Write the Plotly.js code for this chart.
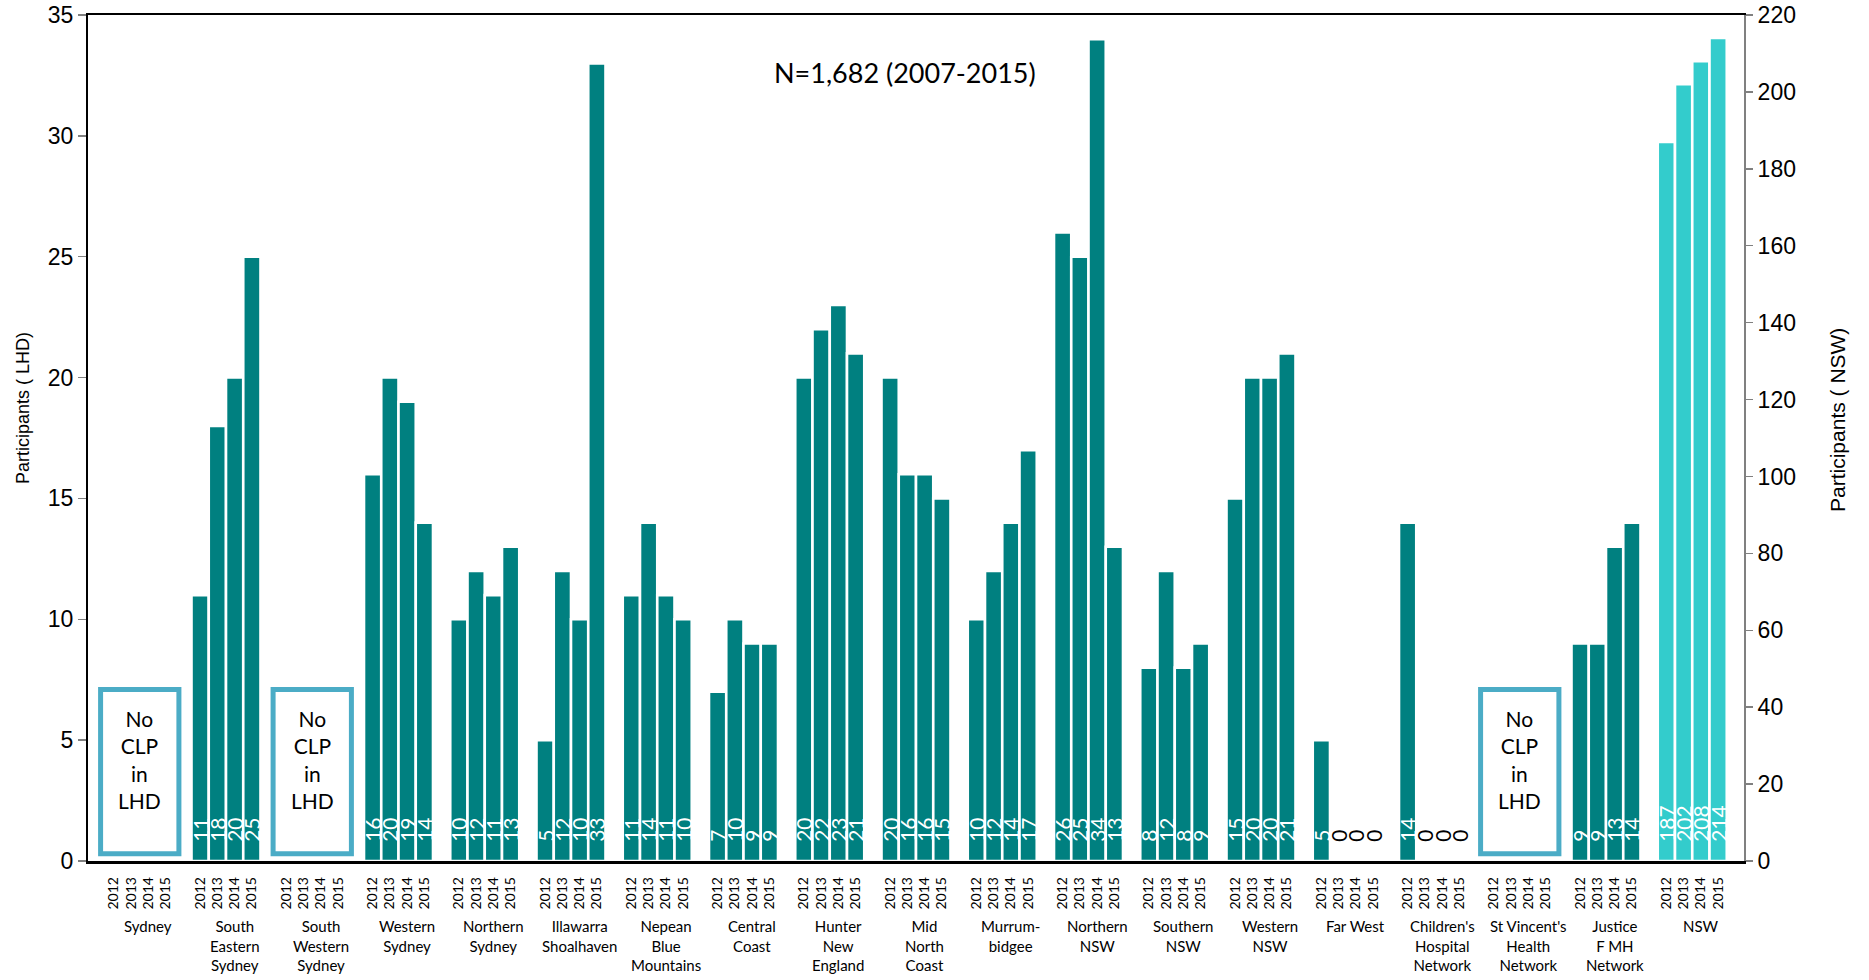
<!DOCTYPE html>
<html>
<head>
<meta charset="utf-8">
<script src="https://cdn.plot.ly/plotly-3.0.1.min.js"></script>
<style>
  html, body { margin: 0; padding: 0; background: #fff; }
  #chart { width: 1869px; height: 980px; }
</style>
</head>
<body>
<div id="chart"></div>
<script>
// Clinical Leadership Program participants by Local Health District, 2012-2015
const years = ['2012', '2013', '2014', '2015'];

const regions = [
  'Sydney', 'South<br>Eastern<br>Sydney', 'South<br>Western<br>Sydney', 'Western<br>Sydney',
  'Northern<br>Sydney', 'Illawarra<br>Shoalhaven', 'Nepean<br>Blue<br>Mountains', 'Central<br>Coast',
  'Hunter<br>New<br>England', 'Mid<br>North<br>Coast', 'Murrum-<br>bidgee', 'Northern<br>NSW',
  'Southern<br>NSW', 'Western<br>NSW', 'Far West', "Children's<br>Hospital<br>Network",
  "St Vincent's<br>Health<br>Network", 'Justice<br>F MH<br>Network', 'NSW'
];

// LHD participants per year (null = no CLP in that LHD)
const lhd2012 = [null, 11, null, 16, 10, 5, 11, 7, 20, 20, 10, 26, 8, 15, 5, 14, null, 9];
const lhd2013 = [null, 18, null, 20, 12, 12, 14, 10, 22, 16, 12, 25, 12, 20, 0, 0, null, 9];
const lhd2014 = [null, 20, null, 19, 11, 10, 11, 9, 23, 16, 14, 34, 8, 20, 0, 0, null, 13];
const lhd2015 = [null, 25, null, 14, 13, 33, 10, 9, 21, 15, 17, 13, 9, 21, 0, 0, null, 14];

// NSW totals (right axis)
const nswTotals = [187, 202, 208, 214];

const lhdByYear = [lhd2012, lhd2013, lhd2014, lhd2015];
const TEAL = '#008080';
const TURQ = '#33CCCC';
const BOX = '#4BACC6';
const LABEL_FONT = 'Lato, "Open Sans", sans-serif';
const AXIS_FONT = '"Liberation Sans", Arial, sans-serif';
const PAD = '\u00a0\u00a0\u00a0';

// Each region occupies five slots on the x axis: four years plus a spacer
const slotOf = (g, yi) => 1 + g * 5 + yi;
const centreOf = g => slotOf(g, 0) + 1.5;

const lx = [], ly = [], lt = [], lpos = [];
regions.slice(0, lhd2012.length).forEach((name, g) => {
  years.forEach((yr, yi) => {
    const v = lhdByYear[yi][g];
    if (v === null) return;
    lx.push(slotOf(g, yi));
    ly.push(v);
    lt.push(PAD + v);
    lpos.push(v === 0 ? 'outside' : 'inside');
  });
});

const nswIndex = regions.length - 1;
const nx = years.map((yr, yi) => slotOf(nswIndex, yi));

const barText = {
  textangle: -90,
  insidetextanchor: 'start',
  constraintext: 'none',
  cliponaxis: false,
  insidetextfont: { family: LABEL_FONT, size: 21, color: '#ffffff' },
  outsidetextfont: { family: LABEL_FONT, size: 21, color: '#000000' },
  hoverinfo: 'x+y'
};

const traces = [
  Object.assign({
    type: 'bar', name: 'LHD', x: lx, y: ly, text: lt, textposition: lpos,
    marker: { color: TEAL, line: { color: '#ffffff', width: 2.6 } },
    yaxis: 'y'
  }, barText),
  Object.assign({
    type: 'bar', name: 'NSW', x: nx, y: nswTotals,
    text: nswTotals.map(v => PAD + v), textposition: 'inside',
    marker: { color: TURQ, line: { color: '#ffffff', width: 2.6 } },
    yaxis: 'y2'
  }, barText)
];

// Year tick labels for every region, including those without a program
const tickvals = [], ticktext = [];
regions.forEach((name, g) => years.forEach((yr, yi) => {
  tickvals.push(slotOf(g, yi));
  ticktext.push(yr);
}));

const annotations = [];
const shapes = [];

// Region names under the year labels
regions.forEach((name, g) => {
  annotations.push({
    text: name, x: centreOf(g) + 0.5, xref: 'x', y: 0, yref: 'paper',
    yanchor: 'top', xanchor: 'center', yshift: -54, showarrow: false,
    font: { family: LABEL_FONT, size: 15, color: '#000' }
  });
});

// "No CLP in LHD" boxes for regions with no values at all
regions.slice(0, lhd2012.length).forEach((name, g) => {
  if (lhdByYear.every(arr => arr[g] === null)) {
    const c = centreOf(g);
    shapes.push({
      type: 'rect', xref: 'x', yref: 'y', x0: c - 2.27, x1: c + 2.27, y0: 0.3, y1: 7.1,
      line: { color: BOX, width: 5 }, fillcolor: '#ffffff', layer: 'above'
    });
    annotations.push({
      text: 'No<br>CLP<br>in<br>LHD', x: c, xref: 'x', y: 4.22, yref: 'y',
      xanchor: 'center', yanchor: 'middle', showarrow: false,
      font: { family: LABEL_FONT, size: 21, color: '#000' }
    });
  }
});

annotations.push({
  text: 'N=1,682 (2007-2015)', xref: 'paper', yref: 'paper',
  x: (905 - 88) / 1656, y: (861 - 72) / 846, xanchor: 'center', yanchor: 'middle',
  showarrow: false, font: { family: LABEL_FONT, size: 27, color: '#000' }
});
annotations.push({
  text: 'Participants ( LHD)', xref: 'paper', yref: 'paper',
  x: (23 - 88) / 1656, y: (861 - 408) / 846, xanchor: 'center', yanchor: 'middle',
  textangle: -90, showarrow: false, font: { family: AXIS_FONT, size: 18, color: '#000' }
});
annotations.push({
  text: 'Participants ( NSW)', xref: 'paper', yref: 'paper',
  x: (1837 - 88) / 1656, y: (861 - 420) / 846, xanchor: 'center', yanchor: 'middle',
  textangle: -90, showarrow: false, font: { family: AXIS_FONT, size: 21, color: '#000' }
});

const layout = {
  width: 1869, height: 980,
  margin: { l: 88, r: 125, t: 15, b: 119, pad: 0 },
  paper_bgcolor: '#ffffff', plot_bgcolor: '#ffffff',
  showlegend: false,
  barmode: 'overlay', bargap: 0,
  xaxis: {
    type: 'linear', range: [-0.5, 95.5], tickvals, ticktext, tickangle: -90,
    ticks: '', ticklabelstandoff: 8, showgrid: false, zeroline: false,
    showline: true, mirror: true, linecolor: '#000', linewidth: 2.5,
    layer: 'below traces', tickfont: { family: LABEL_FONT, size: 14, color: '#000' }
  },
  yaxis: {
    range: [0, 35], dtick: 5, ticks: 'outside', ticklen: 8, tickwidth: 1.5, tickcolor: '#808080',
    showline: true, linecolor: '#000', linewidth: 2, showgrid: false, zeroline: false,
    tickfont: { family: AXIS_FONT, size: 23, color: '#000' }
  },
  yaxis2: {
    overlaying: 'y', side: 'right', range: [0, 220], dtick: 20,
    ticks: 'outside', ticklen: 7, tickwidth: 1.5, tickcolor: '#808080',
    showline: true, linecolor: '#808080', linewidth: 2, showgrid: false, zeroline: false,
    tickfont: { family: AXIS_FONT, size: 23, color: '#000' }
  },
  shapes, annotations
};

Plotly.newPlot('chart', traces, layout, { displayModeBar: false, staticPlot: true });
</script>
</body>
</html>
